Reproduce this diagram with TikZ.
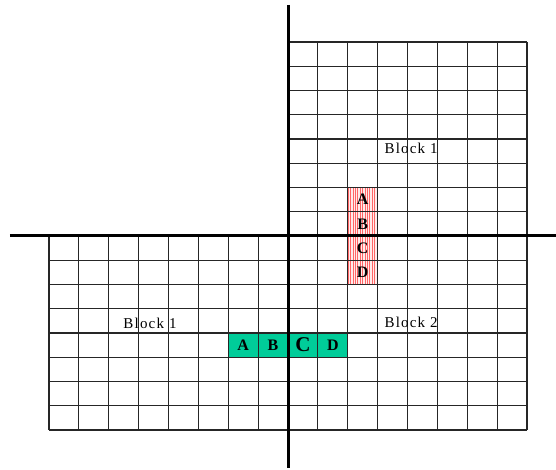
\documentclass[tikz,border=0pt]{standalone}
\usepackage{xcolor}
\usepackage{fontspec}
\setmainfont{Liberation Serif}
\newfontfamily\spacedfont[LetterSpace=8]{Liberation Serif}
\usepackage{tikz}
\usetikzlibrary{patterns.meta}
\definecolor{tealgreen}{RGB}{0,204,153}

\begin{document}
\begin{tikzpicture}[x=29.875pt, y=24.25pt,
          gridline/.style={draw=black!85, line width=1.1pt, step=1},
          axisline/.style={draw=black, line width=3pt},
          cell/.style={minimum width=29.875pt, minimum height=24.25pt, inner sep=0pt, font=\fontsize{16}{16}\selectfont\bfseries},
          redcell/.style={cell, preaction={fill=red!8}, pattern={Lines[angle=90, distance=2.4pt, line width=0.4pt]}, pattern color=red!60},
          greencell/.style={cell, fill=tealgreen},
          blocklabel/.style={font=\fontsize{15}{15}\selectfont\spacedfont, text=black}
        ]
        \useasboundingbox (-9.64,-9.61) rectangle (8.97,9.73);

        % Column of striped cells
        \node[redcell] (redA) at (2.5,1.5) {A};
        \node[redcell] (redB) at (2.5,0.5) {B};
        \node[redcell] (redC) at (2.5,-0.5) {C};
        \node[redcell] (redD) at (2.5,-1.5) {D};

        % Row of green cells
        \node[greencell] (greenA) at (-1.5,-4.5) {A};
        \node[greencell] (greenB) at (-0.5,-4.5) {B};
        \node[greencell, font=\fontsize{21}{21}\selectfont\bfseries] (greenC) at (0.5,-4.5) {C};
        \node[greencell] (greenD) at (1.5,-4.5) {D};

        % Grids
        \draw[gridline] (0,-8) grid (8,8);
        \draw[gridline] (-8,-8) grid (0,0);

        % Axes
        \coordinate (axisTop) at (0,9.53);
        \coordinate (axisBottom) at (0,-9.57);
        \coordinate (axisLeft) at (-9.31,0);
        \coordinate (axisRight) at (8.97,0);
        \draw[axisline] (axisTop) -- (axisBottom);
        \draw[axisline] (axisLeft) -- (axisRight);

        % Block names
        \node[blocklabel] (blockUpper) at (4.12,3.63) {Block 1};
        \node[blocklabel] (blockLeft) at (-4.62,-3.59) {Block 1};
        \node[blocklabel] (blockRight) at (4.12,-3.55) {Block 2};

        \end{tikzpicture}
\end{document}
